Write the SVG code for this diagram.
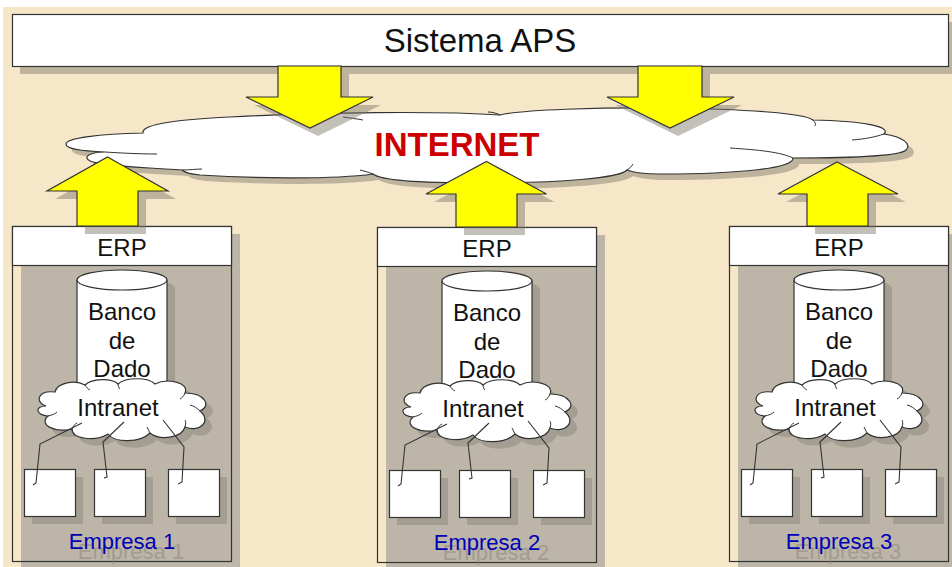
<svg xmlns="http://www.w3.org/2000/svg" width="952" height="567" viewBox="0 0 952 567">
<defs>
<style>
.bg{fill:#F6E7C9}
.box{fill:#FFFFFF;stroke:#333333;stroke-width:1.2}
.frame{fill:none;stroke:#333333;stroke-width:1.2}
.sh{fill:#7A7466;opacity:0.45}
.shc{fill:#BDB6A8}
.shd{fill:#8E897F;opacity:0.55}
.arrow{fill:#FFFF00;stroke:#333333;stroke-width:1.2;stroke-linejoin:miter}
.line{fill:none;stroke:#333333;stroke-width:1.1}
.crease{fill:none;stroke:#333333;stroke-width:1}
.t{font-family:"Liberation Sans",Arial,sans-serif;fill:#111111;text-anchor:middle}
.net{font-family:"Liberation Sans",Arial,sans-serif;font-weight:bold;fill:#CC0000;text-anchor:middle;font-size:33px}
.emp{font-family:"Liberation Sans",Arial,sans-serif;fill:#0000B4;text-anchor:middle;font-size:22px}
.empsh{font-family:"Liberation Sans",Arial,sans-serif;fill:#8C877C;opacity:0.55;text-anchor:middle;font-size:22px}
</style>
<path id="bigcloud" d="M 66 144 C 66 138, 100 134, 143 133 C 141 126, 165 120, 230 117 C 320 112, 440 111, 500 115 C 520 110, 600 107, 670 108 C 740 109, 805 113, 813 120 C 860 121, 892 126, 884 134 C 903 137, 912 144, 906 150 C 900 156, 860 158, 793 158 C 795 168, 740 174, 660 174 C 645 174, 632 172, 627 170 C 620 178, 560 183, 480 183 C 420 183, 380 180, 373 174 C 330 180, 250 178, 200 175 C 190 174, 184 172, 182 170 C 150 168, 100 166, 90 161 C 82 157, 90 152, 105 152 C 80 151, 66 149, 66 144 Z"/>
<path id="smallcloud" d="M 46 406 C 34 402, 38 390, 55 392 C 57 383, 75 379, 85 385 C 92 378, 112 378, 118 384 C 126 377, 148 377, 155 384 C 166 378, 190 382, 185 393 C 205 393, 212 406, 200 411 C 212 421, 200 433, 185 427 C 182 438, 160 441, 150 433 C 140 443, 115 443, 108 434 C 95 442, 72 439, 72 429 C 55 433, 38 425, 48 416 C 36 415, 34 406, 46 406 Z"/>
<g id="company">
 <rect class="shc" x="21" y="234" width="219" height="335"/>
 <rect class="frame" x="12.5" y="226.5" width="219" height="335"/>
 <rect class="box" x="12.5" y="226.5" width="219" height="39"/>
 <text class="t" x="122" y="256" font-size="24">ERP</text>
 <path class="shd" d="M 85 288 L 85 408 A 45 10 0 0 0 175 408 L 175 288 A 45 10 0 0 0 85 288 Z"/>
 <path class="box" d="M 77 280 L 77 400 A 45 10 0 0 0 167 400 L 167 280"/>
 <ellipse class="box" cx="122" cy="280" rx="45" ry="10"/>
 <text class="t" x="122" y="320" font-size="24">Banco</text>
 <text class="t" x="122" y="349" font-size="24">de</text>
 <text class="t" x="122" y="377" font-size="24">Dado</text>
 <use href="#smallcloud" class="shd" transform="translate(7,7)"/>
 <use href="#smallcloud" class="box"/>
 <path class="crease" d="M 48 416 C 52 415, 55 414, 57 412 M 72 429 C 73 426, 75 424, 77 423 M 150 433 C 149 431, 148 429, 147 427 M 185 427 C 186 424, 186 422, 185 420 M 200 411 C 197 408, 194 406, 190 405 M 185 393 C 184 396, 182 398, 180 399 M 118 384 C 118 386, 119 388, 120 389 M 85 385 C 86 387, 88 389, 90 390"/>
 <text class="t" x="118" y="416" font-size="24">Intranet</text>
 <rect class="shd" x="32" y="477" width="51" height="47"/>
 <rect class="shd" x="102" y="477" width="51" height="47"/>
 <rect class="shd" x="176" y="477" width="51" height="47"/>
 <rect class="box" x="24.5" y="469.5" width="51" height="47"/>
 <rect class="box" x="94.5" y="469.5" width="51" height="47"/>
 <rect class="box" x="168.5" y="469.5" width="51" height="47"/>
</g>
</defs>
<rect x="0" y="0" width="952" height="567" fill="#FFFFFF"/>
<rect class="bg" x="3" y="7" width="949" height="560"/>

<g id="sistema-aps">
 <rect class="sh" x="20" y="22" width="936" height="52"/>
 <rect class="box" x="12.5" y="14.5" width="936" height="52"/>
 <text class="t" x="480" y="52" font-size="33">Sistema APS</text>
</g>

<g id="internet">
 <use href="#bigcloud" class="sh" transform="translate(6,6)"/>
 <use href="#bigcloud" class="box"/>
 <path class="crease" d="M 105 152 C 120 153, 140 154, 157 154 M 182 170 C 190 170, 196 169, 202 169 M 373 174 C 368 172, 364 171, 360 170 M 793 158 C 780 152, 760 150, 730 148 M 884 134 C 875 137, 865 139, 852 140 M 343 117 C 350 118, 358 119, 363 120 M 500 115 C 496 113, 492 112, 488 112 M 627 170 C 630 168, 632 166, 633 164 M 813 120 C 815 122, 816 124, 815 126"/>
 <text class="net" x="457" y="156">INTERNET</text>
</g>

<g id="empresa1">
 <use href="#company"/>
 <text class="empsh" x="131" y="559">Empresa 1</text>
 <text class="emp" x="122" y="549">Empresa 1</text>
</g>
<g id="empresa2" transform="translate(365,1)">
 <use href="#company"/>
 <text class="empsh" x="131" y="559">Empresa 2</text>
 <text class="emp" x="122" y="549">Empresa 2</text>
</g>
<g id="empresa3" transform="translate(717,0)">
 <use href="#company"/>
 <text class="empsh" x="131" y="559">Empresa 3</text>
 <text class="emp" x="122" y="549">Empresa 3</text>
</g>

<g id="connectors">
 <g class="sh">
  <polygon points="286,74 349,74 349,105 381,105 318,136 254,105 286,105"/>
  <polygon points="646,74 710,74 710,105 742,105 678,136 615,105 646,105"/>
  <polygon points="115.5,165 176,199 146,199 146,234 85,234 85,199 55,199"/>
  <polygon points="494.5,169.5 554.5,202 525,202 525,235 464,235 464,202 434,202"/>
  <polygon points="845,170 906,202 876,202 876,234 815,234 815,202 786,202"/>
 </g>
 <polygon class="arrow" points="278,66 341,66 341,97 373,97 310,128 246,97 278,97"/>
 <polygon class="arrow" points="638,66 702,66 702,97 734,97 670,128 607,97 638,97"/>
 <polygon class="arrow" points="107.5,157 168,191 138,191 138,226 77,226 77,191 47,191"/>
 <polygon class="arrow" points="486.5,161.5 546.5,194 517,194 517,227 456,227 456,194 426,194"/>
 <polygon class="arrow" points="837,162 898,194 868,194 868,226 807,226 807,194 778,194"/>
 <g id="intranet-links-1">
  <polyline class="line" points="82,423 40,444 36,483 33,485"/>
  <polyline class="line" points="124,422 103,442 107,477 104,478"/>
  <polyline class="line" points="163,420 184,447 182,482 178,484"/>
 </g>
 <g id="intranet-links-2" transform="translate(365,1)">
  <polyline class="line" points="82,423 40,444 36,483 33,485"/>
  <polyline class="line" points="124,422 103,442 107,477 104,478"/>
  <polyline class="line" points="163,420 184,447 182,482 178,484"/>
 </g>
 <g id="intranet-links-3" transform="translate(717,0)">
  <polyline class="line" points="82,423 40,444 36,483 33,485"/>
  <polyline class="line" points="124,422 103,442 107,477 104,478"/>
  <polyline class="line" points="163,420 184,447 182,482 178,484"/>
 </g>
</g>
</svg>
